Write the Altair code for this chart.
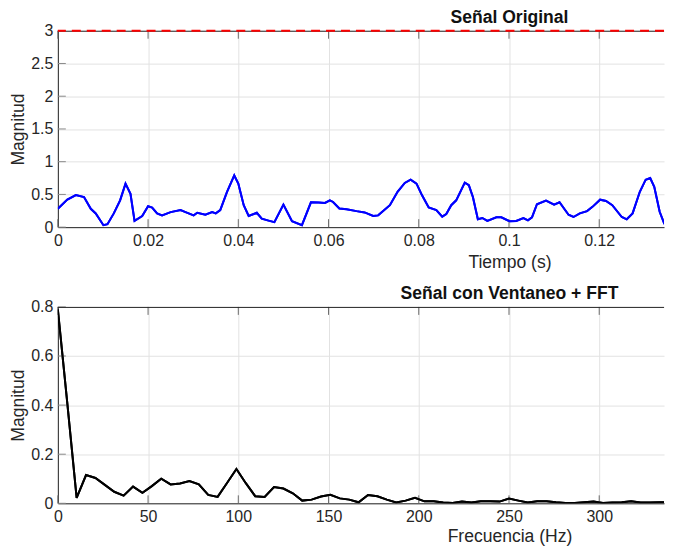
import altair as alt
import pandas as pd

# ---------------- data ----------------
# Top panel: original signal (time in s, magnitude)
t_sig = [0.0000, 0.0021, 0.0040, 0.0058, 0.0073, 0.0084, 0.0101, 0.0110, 0.0124, 0.0138,
         0.0150, 0.0161, 0.0170, 0.0187, 0.0200, 0.0209, 0.0220, 0.0231, 0.0250, 0.0272,
         0.0283, 0.0301, 0.0309, 0.0327, 0.0342, 0.0350, 0.0360, 0.0375, 0.0391, 0.0400,
         0.0412, 0.0423, 0.0441, 0.0452, 0.0467, 0.0480, 0.0500, 0.0519, 0.0541, 0.0561,
         0.0578, 0.0592, 0.0603, 0.0610, 0.0624, 0.0640, 0.0662, 0.0680, 0.0699, 0.0710,
         0.0736, 0.0753, 0.0769, 0.0782, 0.0795, 0.0807, 0.0822, 0.0839, 0.0852, 0.0861,
         0.0872, 0.0883, 0.0902, 0.0911, 0.0920, 0.0931, 0.0941, 0.0952, 0.0972, 0.0983,
         0.1001, 0.1016, 0.1032, 0.1042, 0.1051, 0.1062, 0.1082, 0.1100, 0.1112, 0.1132,
         0.1143, 0.1157, 0.1173, 0.1185, 0.1202, 0.1215, 0.1229, 0.1250, 0.1261, 0.1274,
         0.1290, 0.1303, 0.1313, 0.1322, 0.1334, 0.1344, 0.1355, 0.1361]
v_sig = [0.28, 0.42, 0.49, 0.46, 0.28, 0.21, 0.03, 0.045, 0.21, 0.41,
         0.665, 0.51, 0.096, 0.17, 0.32, 0.30, 0.21, 0.18, 0.23, 0.26,
         0.23, 0.18, 0.22, 0.19, 0.23, 0.21, 0.26, 0.54, 0.79, 0.665,
         0.335, 0.17, 0.22, 0.13, 0.10, 0.076, 0.345, 0.09, 0.03, 0.38,
         0.375, 0.37, 0.41, 0.385, 0.285, 0.275, 0.245, 0.225, 0.17, 0.18,
         0.335, 0.54, 0.675, 0.725, 0.665, 0.49, 0.30, 0.26, 0.16, 0.20,
         0.335, 0.41, 0.68, 0.64, 0.46, 0.12, 0.14, 0.095, 0.15, 0.15,
         0.09, 0.095, 0.14, 0.105, 0.15, 0.35, 0.405, 0.345, 0.38, 0.19,
         0.155, 0.21, 0.245, 0.31, 0.42, 0.40, 0.335, 0.155, 0.12, 0.21,
         0.54, 0.725, 0.75, 0.615, 0.235, 0.055, 0.03, 0.21]
threshold = [3]

# Bottom panel: windowed FFT magnitude (bin spacing in Hz, magnitudes)
df_hz = 1000 / 192
fft_mag = [0.79, 0.41, 0.022, 0.115, 0.103, 0.075, 0.047, 0.031, 0.068, 0.043,
           0.07, 0.10, 0.077, 0.081, 0.091, 0.077, 0.034, 0.026, 0.083, 0.14,
           0.082, 0.029, 0.026, 0.066, 0.060, 0.041, 0.011, 0.015, 0.028, 0.035,
           0.020, 0.015, 0.004, 0.034, 0.029, 0.015, 0.003, 0.011, 0.022, 0.008,
           0.008, 0.003, 0.001, 0.007, 0.003, 0.008, 0.008, 0.007, 0.019, 0.011,
           0.003, 0.008, 0.008, 0.004, 0.001, 0.001, 0.004, 0.007, 0.001, 0.003,
           0.004, 0.008, 0.003, 0.003, 0.004, 0.005]
fft_freq = [round(k * df_hz, 3) for k in range(len(fft_mag))]

t_ticks = [0, 0.02, 0.04, 0.06, 0.08, 0.1, 0.12]
v_ticks = [0, 0.5, 1, 1.5, 2, 2.5, 3]
f_ticks = [0, 50, 100, 150, 200, 250, 300]
m_ticks = [0, 0.2, 0.4, 0.6, 0.8]

# ---------------- styling ----------------
W, H = 608, 197
T_MAX = 0.13436
F_MAX = 335.9
FONT = "Liberation Sans"
TXT = "#262626"
GRID = "#e2e2e2"
TICK_LEN = 8
TITLE_X = 453

sig_df = pd.DataFrame({"t": t_sig, "v": v_sig})
thr_df = pd.DataFrame({"v": threshold})
fft_df = pd.DataFrame({"f": fft_freq, "m": fft_mag})
one = pd.DataFrame({"a": [0]})


def x_axis(ticks, title, ty):
    return alt.Axis(values=ticks, format="~r", labelFlush=False, labelOverlap=False,
                    grid=True, gridColor=GRID, ticks=False, domainColor=TXT, domainWidth=1,
                    labelFont=FONT, labelFontSize=16, labelColor=TXT, labelPadding=5,
                    title=title, titleFont=FONT, titleFontSize=17.6,
                    titleFontWeight="normal", titleColor=TXT, titleX=TITLE_X, titleY=ty,
                    titleAlign="center", titleBaseline="alphabetic")


def y_axis(ticks):
    return alt.Axis(values=ticks, format="~r", labelOverlap=False, grid=True,
                    gridColor=GRID, ticks=False, domainColor=TXT, domainWidth=1,
                    labelFont=FONT, labelFontSize=16, labelColor=TXT, labelPadding=5,
                    title="Magnitud", titleFont=FONT, titleFontSize=17.6,
                    titleFontWeight="normal", titleColor=TXT, titleX=-39, titleY=H / 2,
                    titleAngle=270, titleAlign="center", titleBaseline="middle")


def panel(df, xf, yf, xdom, ydom, xticks, yticks, xtitle, ty, title, color, red=None):
    xs = alt.Scale(domain=xdom, nice=False, zero=False)
    ys = alt.Scale(domain=ydom, nice=False)
    xa = x_axis(xticks, xtitle, ty)
    ya = y_axis(yticks)
    line = alt.Chart(df).mark_line(color=color, strokeWidth=2, clip=True).encode(
        x=alt.X(f"{xf}:Q", scale=xs, axis=xa),
        y=alt.Y(f"{yf}:Q", scale=ys, axis=ya),
    )
    top_border = alt.Chart(one).mark_rule(color=TXT, strokeWidth=1).encode(
        x=alt.value(0), x2=alt.value(W), y=alt.value(0.5))
    xt = pd.DataFrame({xf: xticks})
    yt = pd.DataFrame({yf: yticks})
    xtick_b = alt.Chart(xt).mark_rule(color="#6a6a6a", strokeWidth=1).encode(
        x=alt.X(f"{xf}:Q", scale=xs, axis=xa), y=alt.value(H), y2=alt.value(H - TICK_LEN))
    xtick_t = alt.Chart(xt).mark_rule(color="#6a6a6a", strokeWidth=1).encode(
        x=alt.X(f"{xf}:Q", scale=xs, axis=xa), y=alt.value(0), y2=alt.value(TICK_LEN))
    ytick = alt.Chart(yt).mark_rule(color="#8a8a8a", strokeWidth=1).encode(
        y=alt.Y(f"{yf}:Q", scale=ys, axis=ya), x=alt.value(0), x2=alt.value(TICK_LEN))
    ttl = alt.Chart(one).mark_text(font=FONT, fontSize=17.6, fontWeight="bold",
                                   color="#111111", align="center",
                                   baseline="alphabetic").encode(
        x=alt.value(TITLE_X), y=alt.value(-8), text=alt.value(title))
    layers = [line, xtick_b, xtick_t, ytick, top_border]
    if red is not None:
        rdf = pd.DataFrame({yf: red})
        layers.append(alt.Chart(rdf).mark_rule(color="#ff0000", strokeWidth=2,
                                               strokeDash=[9, 6]).encode(
            y=alt.Y(f"{yf}:Q", scale=ys, axis=ya)))
    layers += [line.mark_line(color=color, strokeWidth=2, clip=True), ttl]
    return alt.layer(*layers).properties(width=W, height=H)


top = panel(sig_df, "t", "v", [0, T_MAX], [0, 3], t_ticks, v_ticks, "Tiempo (s)", 40,
            "Señal Original", "#0000ff", red=threshold)
bottom = panel(fft_df, "f", "m", [0, F_MAX], [0, 0.8], f_ticks, m_ticks, "Frecuencia (Hz)", 38,
               "Señal con Ventaneo + FFT", "#000000")

chart = alt.vconcat(top, bottom, spacing=14).properties(
    padding={"left": 2, "top": 0, "right": 0, "bottom": 0},
    background="white",
).configure_view(stroke=None)

chart.save("out.html", embed_options={"renderer": "svg", "actions": False})
